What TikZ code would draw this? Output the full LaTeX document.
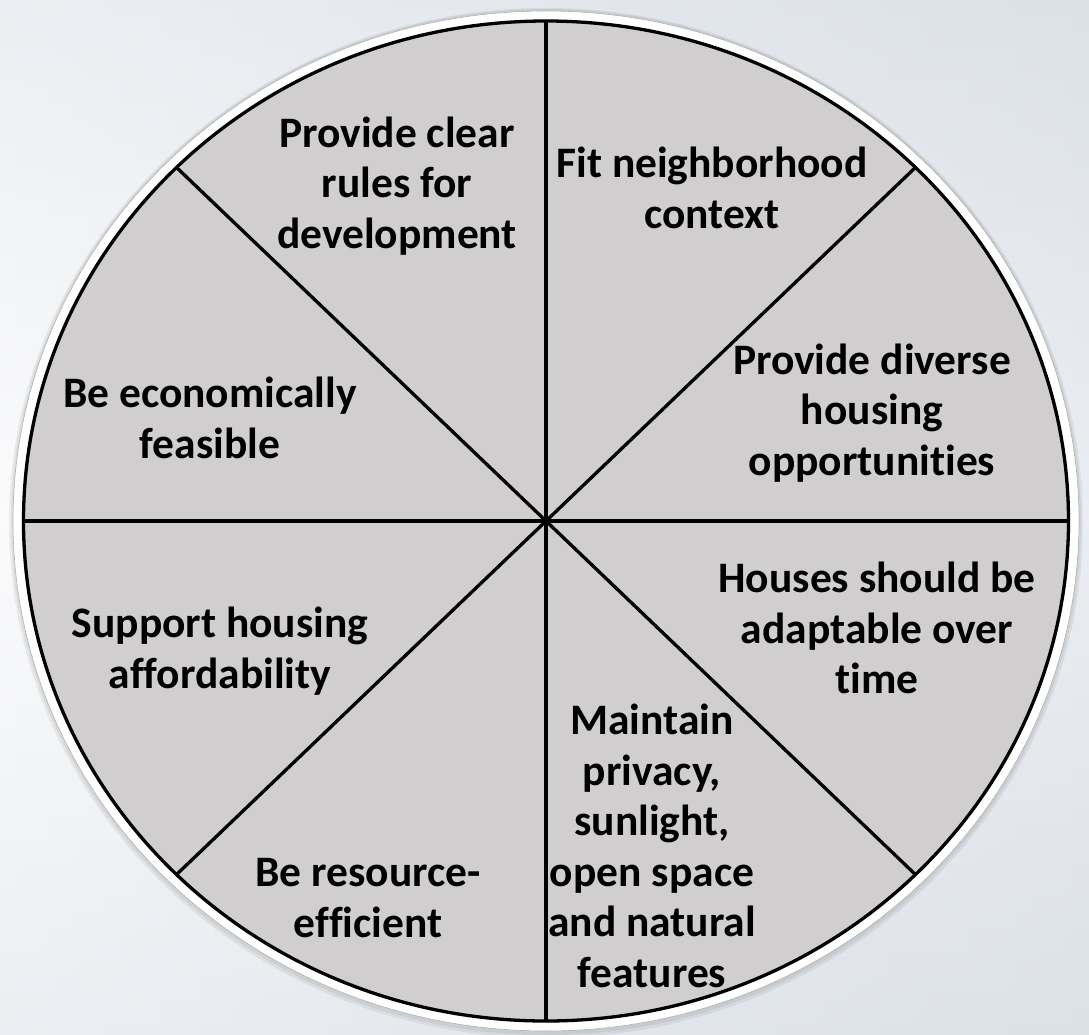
\documentclass[tikz,border=0pt]{standalone}
\usepackage{fontspec}
\setmainfont[Ligatures={NoCommon}]{Carlito}
\usetikzlibrary{calc}
\begin{document}
\begin{tikzpicture}[x=1pt,y=-1pt,
  lbl/.style={align=center,text=black,font=\fontsize{43.5}{50.5}\selectfont\bfseries,inner sep=0pt},
  spoke/.style={line width=3.3pt,black},
]
\definecolor{bgblue}{HTML}{DCE1E8}
\definecolor{bgwhite}{HTML}{F8F8F9}
\definecolor{wedge}{HTML}{D0CECE}
\useasboundingbox (0,0) rectangle (1089,1034);
% background
\shade[top color=bgblue, bottom color=bgblue, middle color=bgwhite] (0,0) rectangle (1089,1034);
\shade[left color=white, right color=bgblue, opacity=0.45] (0,0) rectangle (1089,1034);
% shadow and white rim
\fill[black,opacity=0.06] (546,523) ellipse [x radius=537, y radius=515];
\fill[black,opacity=0.06] (546,522) ellipse [x radius=535, y radius=513];
\fill[white] (546,521) ellipse [x radius=533, y radius=510];
\draw[gray!60,line width=0.6pt] (546,521) ellipse [x radius=533, y radius=510];
% main disc
\coordinate (c) at (546,521);
\fill[wedge] (c) ellipse [x radius=522.5, y radius=500];
\foreach \a/\n in {0/e,45/ne,90/n,135/nw,180/w,225/sw,270/s,315/se}{
  \coordinate (p\n) at ($(c)+({522.5*cos(\a)},{-500*sin(\a)})$);
}
\draw[spoke] (c) -- (pe);
\draw[spoke] (c) -- (pne);
\draw[spoke] (c) -- (pn);
\draw[spoke] (c) -- (pnw);
\draw[spoke] (c) -- (pw);
\draw[spoke] (c) -- (psw);
\draw[spoke] (c) -- (ps);
\draw[spoke] (c) -- (pse);
\draw[line width=3.3pt,black] (c) ellipse [x radius=522.5, y radius=500];
\fill[black] (c) circle (3.5);
% labels
\node[lbl] (t1) at (397,186) {Provide clear\\rules for\\development};
\node[lbl] (t2) at (712,188) {Fit neighborhood\\context};
\node[lbl] (t3) at (872,413) {Provide diverse\\housing\\opportunities};
\node[lbl] (t4) at (210,418) {Be economically\\feasible};
\node[lbl] (t5) at (220,651) {Support housing\\affordability};
\node[lbl] (t6) at (877,628) {Houses should be\\adaptable over\\time};
\node[lbl] (t7) at (652,846) {Maintain\\privacy,\\sunlight,\\open space\\and natural\\features};
\node[lbl] (t8) at (368,898) {Be resource-\\efficient};
\end{tikzpicture}
\end{document}
